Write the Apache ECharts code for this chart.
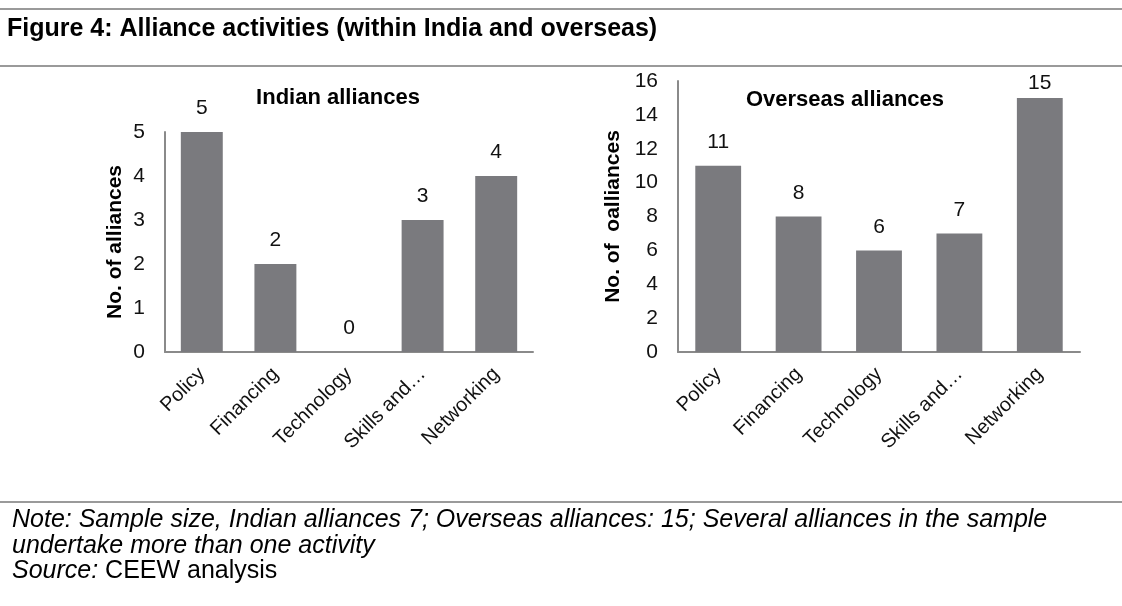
<!DOCTYPE html>
<html>
<head>
<meta charset="utf-8">
<script src="https://cdn.jsdelivr.net/npm/echarts@6/dist/echarts.min.js"></script>
<style>
html,body{margin:0;padding:0;background:#fff;}
#chart{width:1122px;height:606px;}
</style>
</head>
<body>
<div id="chart"></div>
<script>
const categories = ['Policy', 'Financing', 'Technology', 'Skills and…', 'Networking'];
const indianValues = [5, 2, 0, 3, 4];
const overseasValues = [11, 8, 6, 7, 15];
const indianAxis = { min: 0, max: 5, interval: 1 };
const overseasAxis = { min: 0, max: 16, interval: 2 };

const FONT = '"Liberation Sans", Arial, Helvetica, sans-serif';
const BAR = '#7a7a7e';
const AXIS = '#8a8a8a';
const RULE = '#9a9a9a';

const chart = echarts.init(document.getElementById('chart'), null, { renderer: 'canvas' });

function xAxisFor(gridIndex) {
  return {
    type: 'category', gridIndex: gridIndex, data: categories,
    axisLine: { lineStyle: { color: AXIS, width: 2 } },
    axisTick: { show: false },
    axisLabel: { interval: 0, rotate: 45, margin: 19, fontSize: 20, color: '#111', fontFamily: FONT }
  };
}
function yAxisFor(gridIndex, ax, name, gap) {
  return {
    type: 'value', gridIndex: gridIndex, min: ax.min, max: ax.max, interval: ax.interval,
    name: name, nameLocation: 'middle', nameRotate: 90, nameGap: gap,
    nameTextStyle: { fontSize: 21, fontWeight: 'bold', color: '#000', fontFamily: FONT },
    axisLine: { show: true, lineStyle: { color: AXIS, width: 2 } },
    axisTick: { show: false },
    splitLine: { show: false },
    axisLabel: { margin: 20, fontSize: 21, color: '#111', fontFamily: FONT }
  };
}
function seriesData(values, tightIndex) {
  return values.map(function (v, i) {
    return i === tightIndex ? { value: v, label: { distance: 4 } } : v;
  });
}
function barSeries(idx, values, tightIndex) {
  return {
    type: 'bar', xAxisIndex: idx, yAxisIndex: idx,
    data: seriesData(values, tightIndex),
    barWidth: '57%',
    itemStyle: { color: BAR },
    label: { show: true, position: 'top', distance: 13, fontSize: 21, color: '#111', fontFamily: FONT }
  };
}

const option = {
  animation: false,
  textStyle: { fontFamily: FONT },
  grid: [
    { left: 165, top: 132, width: 368, height: 220 },
    { left: 678, top: 81, width: 402, height: 271 }
  ],
  xAxis: [xAxisFor(0), xAxisFor(1)],
  yAxis: [
    yAxisFor(0, indianAxis, 'No. of alliances', 39),
    yAxisFor(1, overseasAxis, 'No. of  oalliances', 54)
  ],
  series: [
    barSeries(0, indianValues, -1),
    barSeries(1, overseasValues, 4)
  ],
  graphic: [
    { type: 'rect', shape: { x: 0, y: 8, width: 1122, height: 2 }, style: { fill: RULE }, silent: true },
    { type: 'rect', shape: { x: 0, y: 65, width: 1122, height: 2 }, style: { fill: RULE }, silent: true },
    { type: 'rect', shape: { x: 0, y: 501, width: 1122, height: 2 }, style: { fill: RULE }, silent: true },
    { type: 'text', x: 7, y: 29, style: { text: 'Figure 4: Alliance activities (within India and overseas)', fill: '#000',
        font: 'bold 25px ' + FONT, textAlign: 'left', textVerticalAlign: 'middle' } },
    { type: 'text', x: 338, y: 98, style: { text: 'Indian alliances', fill: '#000',
        font: 'bold 22px ' + FONT, textAlign: 'center', textVerticalAlign: 'middle' } },
    { type: 'text', x: 845, y: 100, style: { text: 'Overseas alliances', fill: '#000',
        font: 'bold 22px ' + FONT, textAlign: 'center', textVerticalAlign: 'middle' } },
    { type: 'text', x: 12, y: 520, style: { text: 'Note: Sample size, Indian alliances 7; Overseas alliances: 15; Several alliances in the sample', fill: '#000',
        font: 'italic 25px ' + FONT, textAlign: 'left', textVerticalAlign: 'middle' } },
    { type: 'text', x: 12, y: 546, style: { text: 'undertake more than one activity', fill: '#000',
        font: 'italic 25px ' + FONT, textAlign: 'left', textVerticalAlign: 'middle' } },
    { type: 'text', x: 12, y: 571, style: { text: '{i|Source: }{n|CEEW analysis}', fill: '#000', textAlign: 'left', textVerticalAlign: 'middle',
        rich: {
          i: { fontStyle: 'italic', fontSize: 25, fontFamily: FONT, fill: '#000' },
          n: { fontSize: 25, fontFamily: FONT, fill: '#000' }
        } } }
  ]
};
chart.setOption(option);
</script>
</body>
</html>
